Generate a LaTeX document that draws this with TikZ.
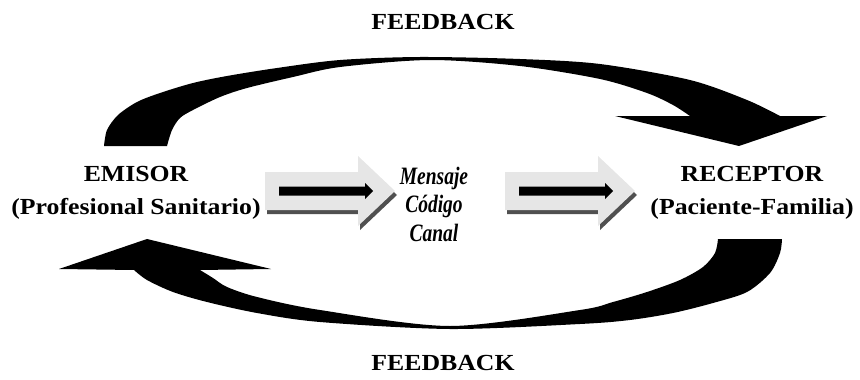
\documentclass[tikz,border=0pt]{standalone}
\usepackage{fontspec}
\setmainfont{Liberation Serif}[FakeStretch=1.12]
\newfontfamily\channelfont{Liberation Serif}[FakeStretch=0.78]
\usepackage{tikz}
\usetikzlibrary{positioning,calc}
\definecolor{arrowgray}{RGB}{230,230,230}
\definecolor{shadowgray}{RGB}{80,80,80}

\begin{document}
\begin{tikzpicture}[x=1pt,y=-1pt,
    party/.style={font=\fontsize{23}{33}\selectfont\bfseries, align=center},
    channel/.style={font=\channelfont\fontsize{25}{28.5}\selectfont\bfseries\itshape, align=center},
    fb/.style={font=\fontsize{23}{28}\selectfont\bfseries, anchor=base}]
    \useasboundingbox (0,0) rectangle (860,380);

    % Texts
    \node[fb] (fbtop) at (443,30) {FEEDBACK};
    \node[fb] (fbbottom) at (443,370) {FEEDBACK};
    \node[party] (emisor) at (136,193) {EMISOR\\(Profesional Sanitario)};
    \node[party] (receptor) at (752,193) {RECEPTOR\\(Paciente-Familia)};
    \node[channel] (mensaje) at (434,204) {Mensaje\\Código\\Canal};

    % Message arrows
    \foreach \dx in {265,505} {
        \begin{scope}[shift={(\dx,191)}]
            \fill[shadowgray] (2,-15) -- (95,-15) -- (95,-31) -- (132,4) -- (95,39) -- (95,23) -- (2,23) -- cycle;
            \fill[arrowgray] (0,-19) -- (93,-19) -- (93,-35) -- (130,0) -- (93,35) -- (93,19) -- (0,19) -- cycle;
            \fill[black] (14,-4.5) -- (100,-4.5) -- (100,-8) -- (108,0) -- (100,8) -- (100,4.5) -- (14,4.5) -- cycle;
        \end{scope}
    }

    % Top feedback arrow
    \fill[black] plot[smooth] coordinates {(104,146) (107,130) (118,115) (137,102) (160,93) (193,83) (227,76) (277,68) (340,60) (420,57) (520,59) (600,64) (690,80) (747,100) (780,116)}
        -- (827,116) -- (739,146) -- (615,116)
        -- plot[smooth] coordinates {(690,116) (673,105) (647,93) (600,79) (520,66) (430,60) (340,67) (293,77) (247,88) (220,97) (193,110) (180,118) (172,130) (167,146)}
        -- cycle;

    % Bottom feedback arrow
    \fill[black] plot[smooth] coordinates {(782,239) (780,253) (770,273) (747,292) (713,303) (673,313) (630,320) (580,324) (450,329) (320,322) (257,313) (207,302) (173,292) (147,280) (134,270)}
        -- (59,269) -- (147,239) -- (271,269)
        -- plot[smooth] coordinates {(200,270) (213,278) (227,287) (257,297) (320,310) (450,326) (580,310) (613,302) (647,292) (680,280) (703,267) (715,253) (718,239)}
        -- cycle;
\end{tikzpicture}
\end{document}
